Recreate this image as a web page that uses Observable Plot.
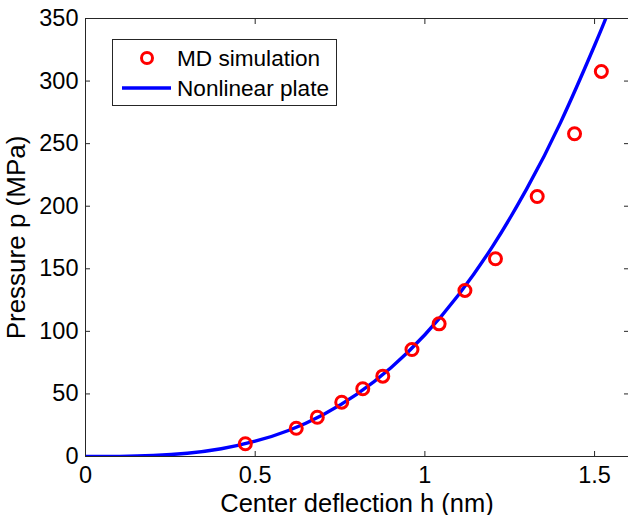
<!DOCTYPE html>
<html><head><meta charset="utf-8">
<script src="https://cdn.jsdelivr.net/npm/d3@7"></script>
<script src="https://cdn.jsdelivr.net/npm/@observablehq/plot@0.6"></script>
<style>
body{margin:0;background:#fff;}
#wrap{position:relative;width:628px;height:515px;font-family:"Liberation Sans",Arial,sans-serif;}
#legend{position:absolute;left:0;top:0;pointer-events:none;}
</style></head>
<body><div id="wrap"></div>
<script>
// MD simulation points
const mdH = [0.471, 0.621, 0.683, 0.755, 0.817, 0.876, 0.962, 1.042, 1.118, 1.208, 1.331, 1.441, 1.520];
const mdP = [10.2, 22.6, 31.4, 43.4, 54.1, 64.2, 85.5, 106.0, 132.7, 158.0, 207.8, 257.9, 307.7];
// Nonlinear plate curve
const plateH = [0, 0.1, 0.2, 0.3, 0.4, 0.5, 0.6, 0.7, 0.8, 0.9, 1.0, 1.1, 1.2, 1.3, 1.4, 1.5, 1.533];
const plateP = [0, 0.1, 0.8, 2.6, 6.2, 12.2, 21.0, 33.4, 49.8, 70.9, 97.3, 129.5, 168.1, 213.8, 267.0, 328.4, 350];
const xTicks = [0, 0.5, 1, 1.5];
const xTickLabels = ["0", "0.5", "1", "1.5"];
const yTicks = [0, 50, 100, 150, 200, 250, 300, 350];
const legendLabels = ["MD simulation", "Nonlinear plate"];

const md = mdH.map((h, i) => ({h, p: mdP[i]}));
const plate = plateH.map((h, i) => ({h, p: plateP[i]}));

const axisColor = "#262626";
const font = "Liberation Sans, Arial, sans-serif";
const chart = Plot.plot({
  width: 628, height: 515,
  marginLeft: 85, marginRight: 0, marginTop: 18, marginBottom: 59,
  style: {fontFamily: font, fontSize: "22px", color: "#000", background: "#fff"},
  x: {domain: [0, 1.6], ticks: xTicks, label: null},
  y: {domain: [0, 350], ticks: yTicks, label: null},
  marks: [
    Plot.axisX({ticks: xTicks, tickSize: -5, tickPadding: 15, stroke: axisColor, fontSize: 23.5, tickFormat: (d) => xTickLabels[xTicks.indexOf(d)], fill: "#000", label: null}),
    Plot.axisX({ticks: [], label: "Center deflection h (nm)", fontSize: 25.5, fill: "#000", labelAnchor: "center", labelOffset: 55, labelArrow: "none", tickSize: 0}),
    Plot.axisX({anchor: "top", ticks: xTicks, tickSize: -5, stroke: axisColor, tickFormat: () => "", label: null}),
    Plot.axisY({ticks: yTicks, tickSize: -5, tickPadding: 12, stroke: axisColor, fontSize: 23.5, fill: "#000", label: null}),
    Plot.axisY({ticks: [], label: "Pressure p (MPa)", fontSize: 26, fill: "#000", labelAnchor: "center", labelOffset: 79, labelArrow: "none", tickSize: 0}),
    Plot.axisY({anchor: "right", ticks: yTicks, tickSize: -5, stroke: axisColor, tickFormat: () => "", label: null}),
    Plot.line(plate, {x: "h", y: "p", stroke: "#0000ff", strokeWidth: 3.4, curve: "natural", clip: true}),
    Plot.dot(md, {x: "h", y: "p", r: 6, stroke: "#ff0000", strokeWidth: 3, fill: "none"}),
    Plot.frame({stroke: axisColor, strokeWidth: 1})
  ]
});
const wrap = document.getElementById("wrap");
wrap.appendChild(chart);

const leg = d3.select(wrap).append("svg").attr("id", "legend").attr("width", 628).attr("height", 515);
leg.append("rect").attr("x", 112.5).attr("y", 39.5).attr("width", 224).attr("height", 66)
  .attr("fill", "#fff").attr("stroke", axisColor).attr("stroke-width", 1);
leg.append("circle").attr("cx", 147).attr("cy", 58).attr("r", 5.5)
  .attr("fill", "none").attr("stroke", "#ff0000").attr("stroke-width", 3);
leg.append("line").attr("x1", 122).attr("x2", 171).attr("y1", 88).attr("y2", 88)
  .attr("stroke", "#0000ff").attr("stroke-width", 3.4);
leg.selectAll("text").data(legendLabels).join("text")
  .attr("x", 177).attr("y", (d, i) => i === 0 ? 65.5 : 95.5)
  .attr("font-family", font).attr("font-size", 22.6).attr("fill", "#000")
  .text(d => d);
</script></body></html>
